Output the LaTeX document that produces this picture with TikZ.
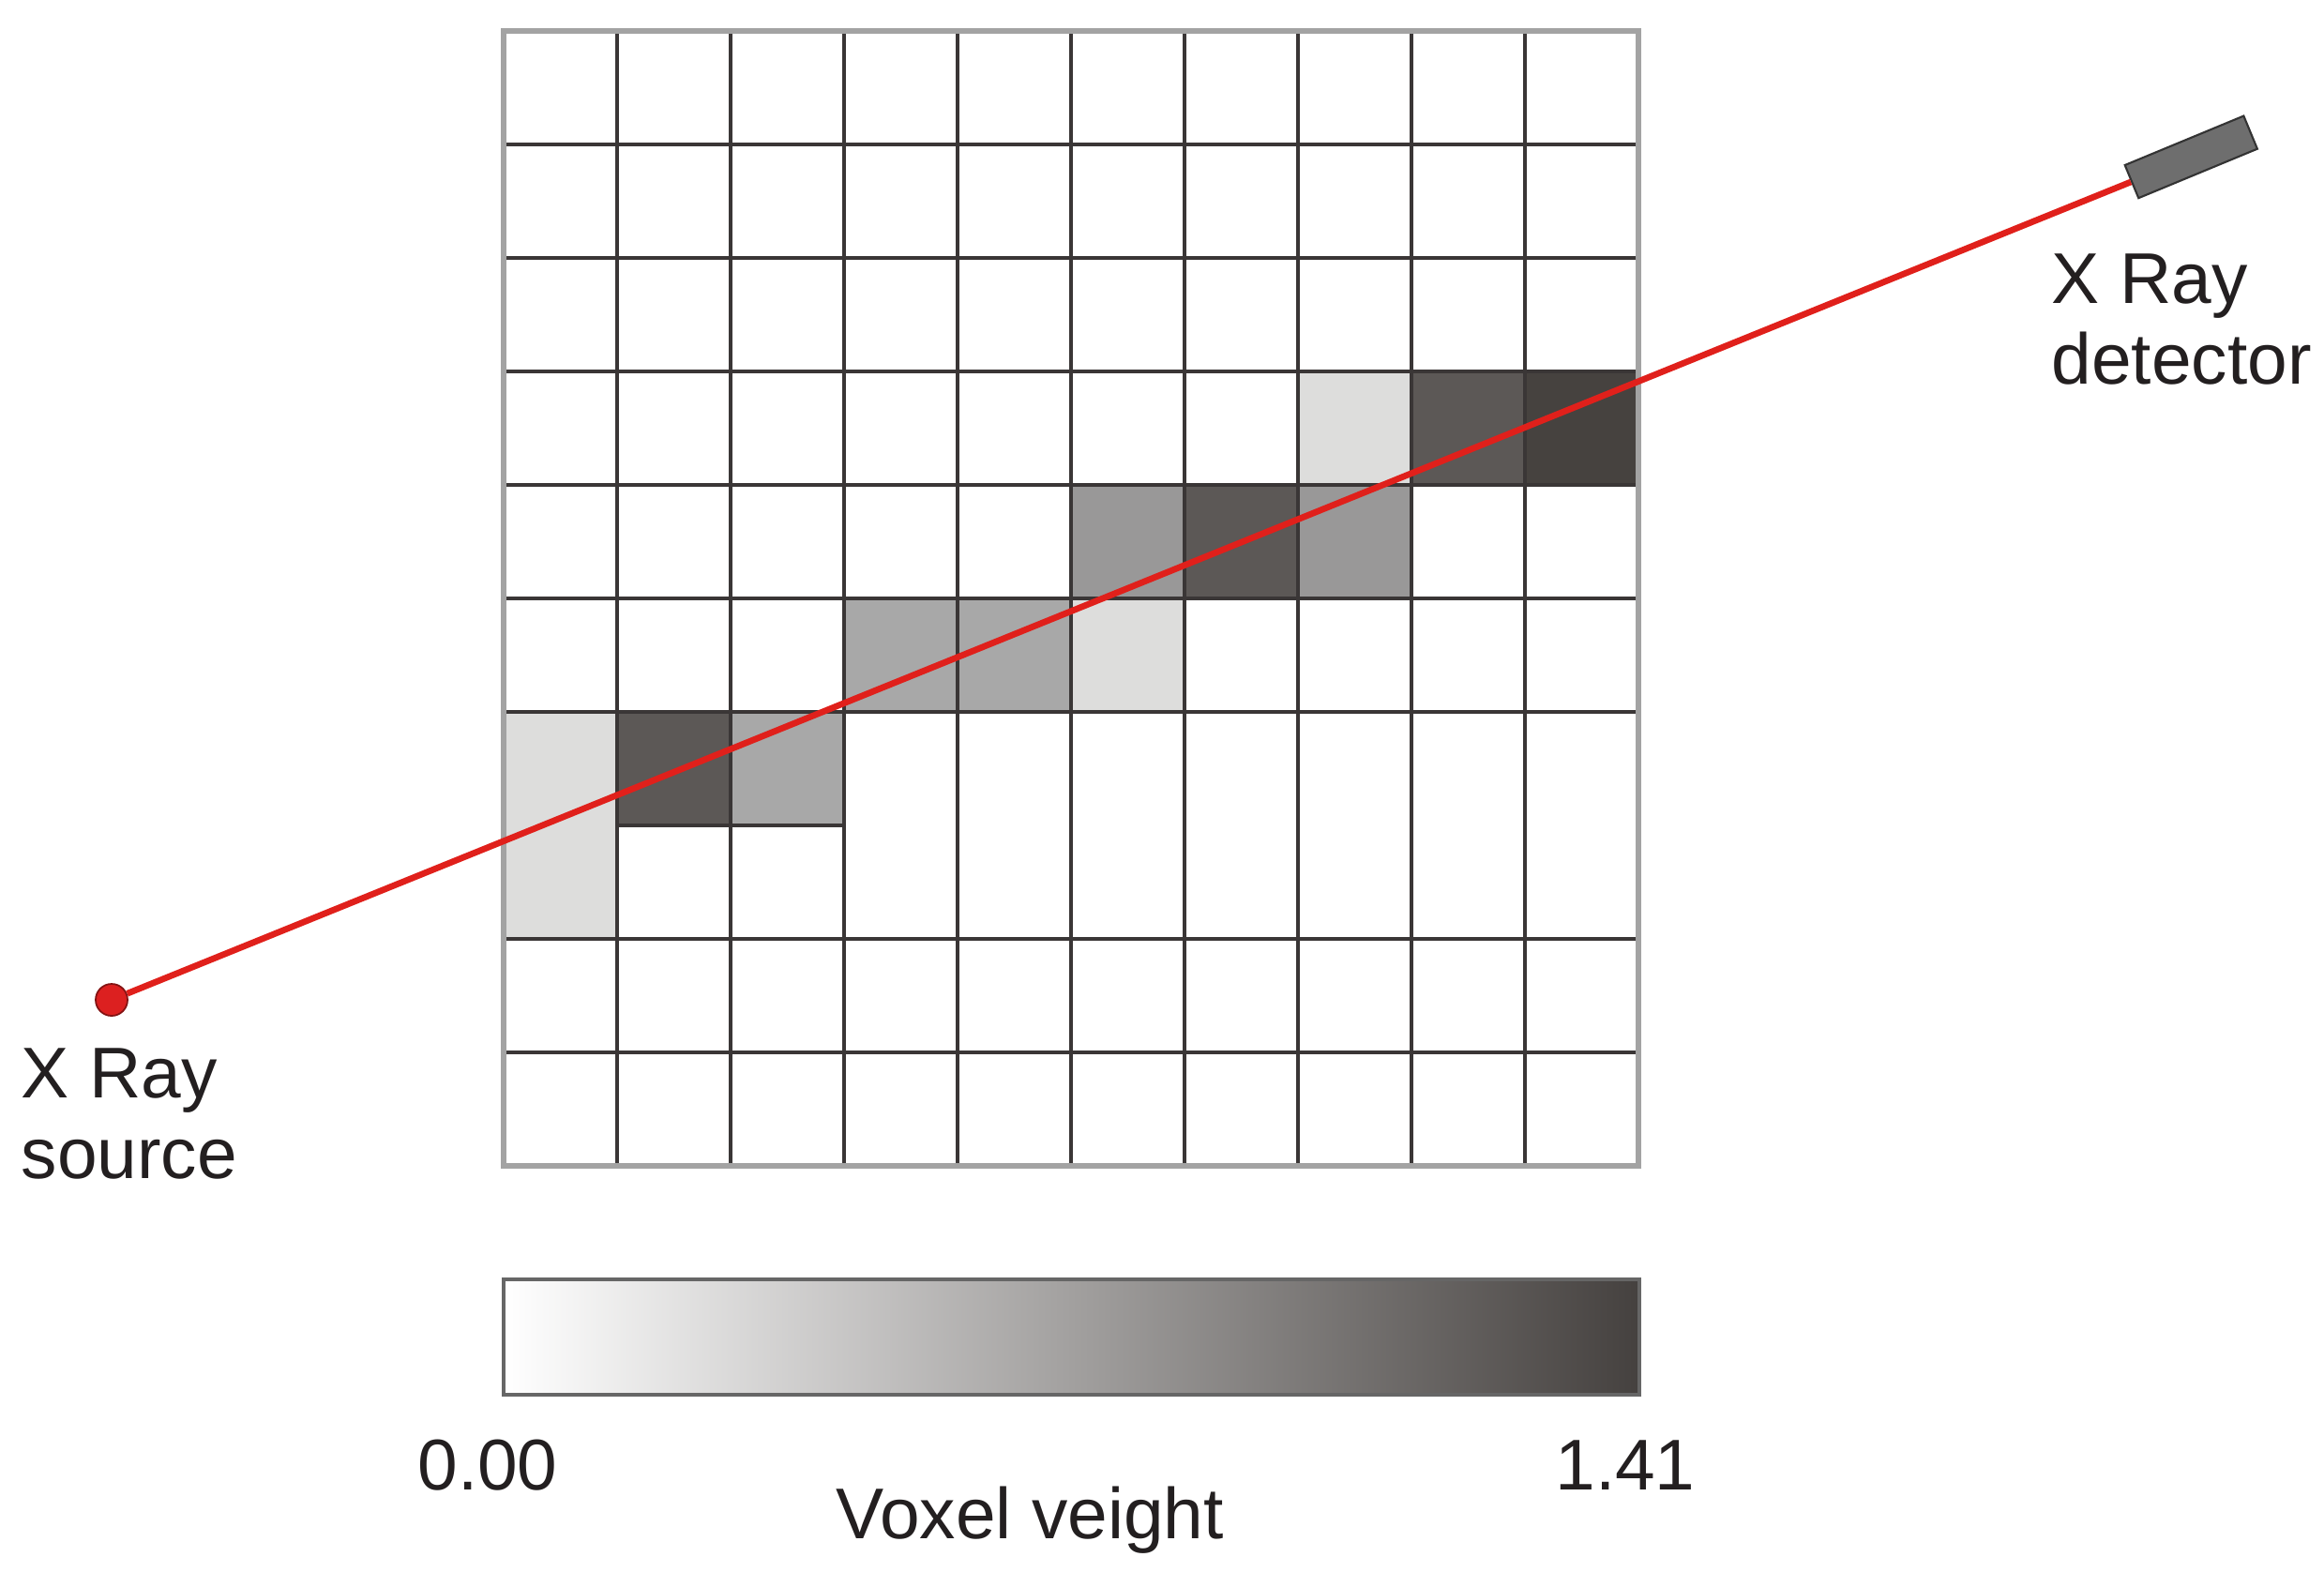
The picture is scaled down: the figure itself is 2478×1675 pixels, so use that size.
\documentclass[tikz,border=0pt]{standalone}
\usepackage{fontspec}
\setmainfont{Liberation Sans}
\definecolor{gridc}{HTML}{3A3636}
\definecolor{framec}{HTML}{A3A3A3}
\definecolor{cLight}{HTML}{DDDDDC}
\definecolor{cMid}{HTML}{A8A8A8}
\definecolor{cMidB}{HTML}{999898}
\definecolor{cDark}{HTML}{5C5856}
\definecolor{cDarker}{HTML}{46423F}
\definecolor{rayc}{HTML}{E0201B}
\definecolor{dotc}{HTML}{DC2020}
\definecolor{detc}{HTML}{6E6E6E}
\definecolor{textc}{HTML}{231F20}
\definecolor{barend}{HTML}{45413F}
\begin{document}
\begin{tikzpicture}[x=0.01cm,y=-0.01cm,
  font=\fontsize{21.8pt}{24.5pt}\selectfont,
  gridline/.style={draw=gridc, line width=0.95pt},
  frameline/.style={draw=framec, line width=1.6pt},
  label/.style={inner sep=0pt, text=textc},
  ray/.style={draw=rayc, line width=1.9pt},
  sourcedot/.style={circle, fill=dotc, draw=dotc!60!black, line width=0.5pt, minimum size=0.34cm, inner sep=0pt},
  detbox/.style={rectangle, fill=detc, draw=black!80, line width=0.6pt, minimum width=1.37cm, minimum height=0.38cm, inner sep=0pt}]
\useasboundingbox (0,0) rectangle (2478,1675);

% shaded voxels
\foreach \c/\r/\col in {7/3/cLight, 8/3/cDark, 9/3/cDarker,
                        5/4/cMidB, 6/4/cDark, 7/4/cMidB,
                        3/5/cMid, 4/5/cMid, 5/5/cLight,
                        1/6/cDark, 2/6/cMid}
  \fill[\col] ({537+\c*121},{33+\r*121}) rectangle ++(121,121);
\fill[cLight] (537,759) rectangle ++(121,242);

% grid lines
\foreach \i in {1,...,9}
  \draw[gridline] ({537+\i*121},33) -- ({537+\i*121},1243);
\foreach \j in {1,2,3,4,5,6,8,9}
  \draw[gridline] (537,{33+\j*121}) -- (1747,{33+\j*121});
\draw[gridline] (658,880) -- (900,880);
\draw[frameline] (537,33) rectangle (1747,1243);

% source, detector and ray
\node[sourcedot] (src) at (119,1066) {};
\node[detbox, rotate=22.5, anchor=west] (det) at (2272,194) {};
\draw[ray] (src) -- (det.west);

% labels
\node[label, anchor=base west] (srclabel) at (22,1170)
  {\begin{tabular}[t]{@{}l@{}}X Ray\\source\end{tabular}};
\node[label, anchor=base west] (detlabel) at (2187,323)
  {\begin{tabular}[t]{@{}l@{}}X Ray\\detector\end{tabular}};

% colour bar
\shade[left color=white, right color=barend] (537,1364) rectangle (1748,1487);
\draw[draw=black!60, line width=0.9pt] (537,1364) rectangle (1748,1487);
\node[label, anchor=base] (lo) at (520,1588) {0.00};
\node[label, anchor=base] (hi) at (1733,1588) {1.41};
\node[label, anchor=base] (axis) at (1098,1640) {Voxel veight};
\end{tikzpicture}
\end{document}
